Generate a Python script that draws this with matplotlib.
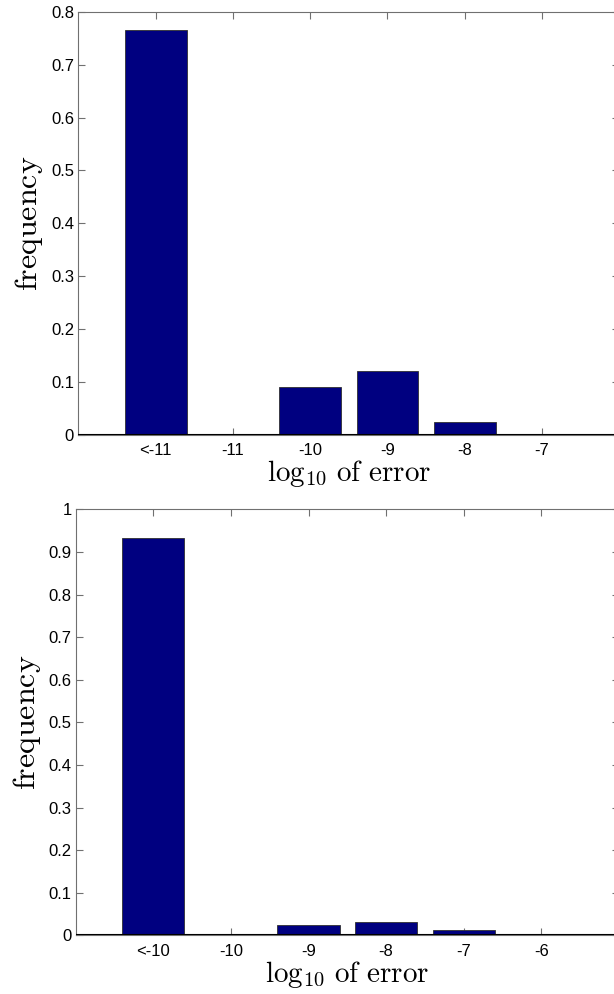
import matplotlib
matplotlib.use("Agg")
import matplotlib.pyplot as plt
import numpy as np

plt.rcParams['mathtext.fontset'] = 'cm'
plt.rcParams['font.family'] = ['Liberation Sans', 'DejaVu Sans']

cats_top = ['<-11', '-11', '-10', '-9', '-8', '-7']
vals_top = [0.765, 0.0, 0.0905, 0.120, 0.025, 0.0]
yticks_top = [0, 0.1, 0.2, 0.3, 0.4, 0.5, 0.6, 0.7, 0.8]
ylabels_top = ['0', '0.1', '0.2', '0.3', '0.4', '0.5', '0.6', '0.7', '0.8']

cats_bot = ['<-10', '-10', '-9', '-8', '-7', '-6']
vals_bot = [0.932, 0.0, 0.024, 0.031, 0.012, 0.0]
yticks_bot = [0, 0.1, 0.2, 0.3, 0.4, 0.5, 0.6, 0.7, 0.8, 0.9, 1.0]
ylabels_bot = ['0', '0.1', '0.2', '0.3', '0.4', '0.5', '0.6', '0.7', '0.8', '0.9', '1']

fig = plt.figure(figsize=(6.14, 9.94), dpi=100)

def draw(rect, cats, vals, yticks, ylabels, ymax):
    ax = fig.add_axes(rect)
    x = np.arange(1, len(cats) + 1)
    ax.bar(x, vals, width=0.8, color='#000080', edgecolor='#303030', linewidth=0.6, zorder=2)
    ax.set_xlim(0, len(cats) + 1)
    ax.set_ylim(0, ymax)
    ax.set_xticks(x)
    ax.set_xticklabels(cats, fontsize=12)
    ax.set_yticks(yticks)
    ax.set_yticklabels(ylabels, fontsize=12)
    ax.axhline(0, color='black', linewidth=1.5, zorder=3)
    for s in ax.spines.values():
        s.set_color('#707070')
        s.set_linewidth(0.8)
    ax.tick_params(direction='in', length=5, width=0.8, color='#707070',
                   top=True, right=True)
    ax.tick_params(axis='x', pad=6)
    ax.tick_params(axis='y', pad=3)
    ax.set_ylabel(r'$\mathrm{frequency}$', fontsize=23, labelpad=4)
    ax.set_xlabel(r'$\log_{10}\,\mathrm{of\ error}$', fontsize=21, labelpad=0)
    return ax

draw([0.1275, 0.5624, 0.8813, 0.4258], cats_top, vals_top, yticks_top, ylabels_top, 0.8)
draw([0.1233, 0.0590, 0.8847, 0.4286], cats_bot, vals_bot, yticks_bot, ylabels_bot, 1.0)

fig.savefig('out.png', dpi=100)
